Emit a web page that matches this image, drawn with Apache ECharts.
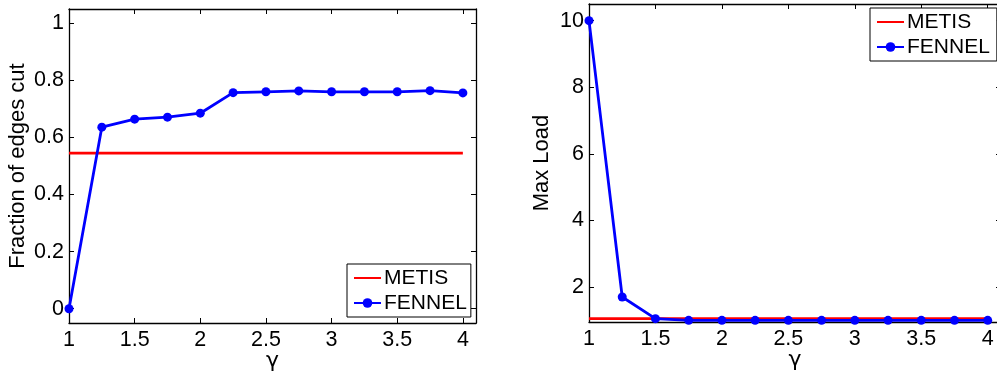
<!DOCTYPE html>
<html>
<head>
<meta charset="utf-8">
<script src="https://cdn.jsdelivr.net/npm/echarts@6/dist/echarts.min.js"></script>
<style>html,body{margin:0;padding:0;background:#fff}#c{width:997px;height:373px}</style>
</head>
<body>
<div id="c"></div>
<script>
const gammaValues = [1, 1.25, 1.5, 1.75, 2, 2.25, 2.5, 2.75, 3, 3.25, 3.5, 3.75, 4];
const fennelCut = [0, 0.636, 0.664, 0.671, 0.685, 0.757, 0.76, 0.763, 0.76, 0.76, 0.76, 0.764, 0.756];
const metisCut = [0.545, 0.545];
const fennelLoad = [10, 1.70, 1.05, 1.0, 1.0, 1.0, 1.0, 1.0, 1.0, 1.0, 1.0, 1.0, 1.0];
const metisLoad = [1.05, 1.05];
const metisX = [1, 4];
const xTicks = [1, 1.5, 2, 2.5, 3, 3.5, 4];
const cutTicks = [0, 0.2, 0.4, 0.6, 0.8, 1];
const loadTicks = [2, 4, 6, 8, 10];

const FONT = "'Liberation Sans', Arial, Helvetica, sans-serif";
const GFONT = "'DejaVu Sans', 'Liberation Sans', sans-serif";
const BLUE = '#0000ff', RED = '#ff0000';

function pairs(xs, ys) { return xs.map((x, i) => [x, ys[i]]); }

function mainX(gi, name) {
  return {
    type: 'value', gridIndex: gi, min: 1, max: 4.1, position: 'bottom',
    name: name, nameLocation: 'middle', nameGap: 26, nameMoveOverlap: false,
    nameTextStyle: { fontFamily: GFONT, fontSize: 22, color: '#000', lineHeight: 24 },
    axisLine: { show: true, onZero: false, lineStyle: { color: '#000', width: 1.3 } },
    axisTick: { show: true, inside: true, length: 5, customValues: xTicks, lineStyle: { color: '#000' } },
    axisLabel: { show: true, customValues: xTicks, fontFamily: FONT, fontSize: 21.5, color: '#000', margin: 6 },
    splitLine: { show: false }
  };
}
function topX(gi) {
  return {
    type: 'value', gridIndex: gi, min: 1, max: 4.1, position: 'top',
    axisLine: { show: true, onZero: false, lineStyle: { color: '#000', width: 1.3 } },
    axisTick: { show: true, inside: true, length: 5, customValues: xTicks, lineStyle: { color: '#000' } },
    axisLabel: { show: false }, splitLine: { show: false }
  };
}
function mainY(gi, name, min, max, ticks, gap) {
  return {
    type: 'value', gridIndex: gi, min: min, max: max, position: 'left',
    name: name, nameLocation: 'middle', nameGap: gap,
    nameTextStyle: { fontFamily: FONT, fontSize: 22, color: '#000' },
    axisLine: { show: true, onZero: false, lineStyle: { color: '#000', width: 1.3 } },
    axisTick: { show: true, inside: true, length: 5, customValues: ticks, lineStyle: { color: '#000' } },
    axisLabel: { show: true, customValues: ticks, fontFamily: FONT, fontSize: 21.5, color: '#000', margin: 5 },
    splitLine: { show: false }
  };
}
function rightY(gi, min, max, ticks) {
  return {
    type: 'value', gridIndex: gi, min: min, max: max, position: 'right',
    axisLine: { show: true, onZero: false, lineStyle: { color: '#000', width: 1.3 } },
    axisTick: { show: true, inside: true, length: 5, customValues: ticks, lineStyle: { color: '#000' } },
    axisLabel: { show: false }, splitLine: { show: false }
  };
}

const legendStyle = {
  orient: 'vertical', borderColor: '#000', borderWidth: 1, backgroundColor: '#fff',
  itemWidth: 27, itemHeight: 12, itemGap: 3, padding: [3, 4, 3, 6],
  textStyle: { fontFamily: FONT, fontSize: 21, color: '#000', lineHeight: 22, padding: [0, 0, 0, -2] },
  data: [{ name: 'METIS', itemStyle: { opacity: 0 } }, 'FENNEL'], selectedMode: false
};

const chart = echarts.init(document.getElementById('c'), null, { renderer: 'canvas' });
chart.setOption({
  animation: false,
  backgroundColor: '#fff',
  grid: [
    { left: 69, top: 9, width: 407, height: 314, outerBoundsMode: 'none', containLabel: false },
    { left: 589, top: 4, width: 412, height: 318, outerBoundsMode: 'none', containLabel: false }
  ],
  xAxis: [mainX(0, 'γ'), topX(0), mainX(1, 'γ'), topX(1)],
  yAxis: [
    mainY(0, 'Fraction of edges cut', -0.05, 1.05, cutTicks, 40),
    rightY(0, -0.05, 1.05, cutTicks),
    mainY(1, 'Max Load', 0.95, 10.5, loadTicks, 36),
    rightY(1, 0.95, 10.5, loadTicks)
  ],
  legend: [
    Object.assign({}, legendStyle, { left: 347, top: 264 }),
    Object.assign({}, legendStyle, { left: 870, top: 8, padding: [3, 7, 3, 6] })
  ],
  series: [
    { name: 'METIS', type: 'line', xAxisIndex: 0, yAxisIndex: 0, data: pairs(metisX, metisCut),
      showSymbol: false, symbol: 'none', lineStyle: { color: RED, width: 2.8 }, itemStyle: { color: RED } },
    { name: 'FENNEL', type: 'line', xAxisIndex: 0, yAxisIndex: 0, data: pairs(gammaValues, fennelCut),
      symbol: 'circle', symbolSize: 9, lineStyle: { color: BLUE, width: 2.8 }, itemStyle: { color: BLUE } },
    { name: 'METIS', type: 'line', xAxisIndex: 2, yAxisIndex: 2, data: pairs(metisX, metisLoad),
      showSymbol: false, symbol: 'none', lineStyle: { color: RED, width: 2.8 }, itemStyle: { color: RED } },
    { name: 'FENNEL', type: 'line', xAxisIndex: 2, yAxisIndex: 2, data: pairs(gammaValues, fennelLoad),
      symbol: 'circle', symbolSize: 9, lineStyle: { color: BLUE, width: 2.8 }, itemStyle: { color: BLUE } }
  ]
});
</script>
</body>
</html>
